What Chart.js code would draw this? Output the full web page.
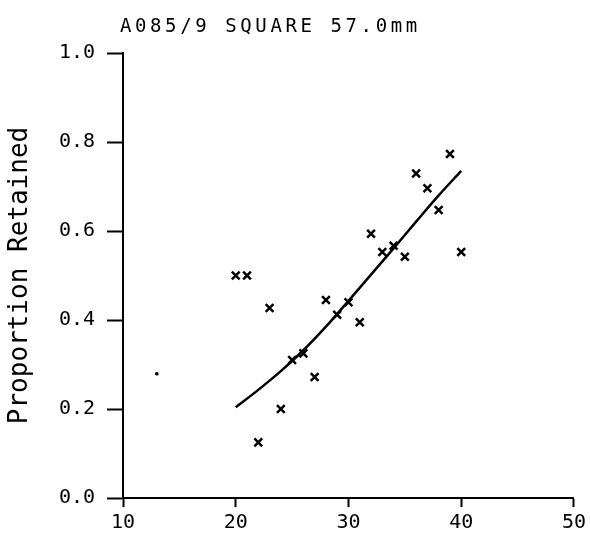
<!DOCTYPE html>
<html>
<head>
<meta charset="utf-8">
<script src="https://cdn.jsdelivr.net/npm/chart.js@4.4.0/dist/chart.umd.min.js"></script>
<style>
  html, body { margin: 0; padding: 0; background: #fff; }
  #wrap { width: 590px; height: 534px; }
</style>
</head>
<body>
<div id="wrap"><canvas id="retainedChart"></canvas></div>
<script>
const chartTitle = "A085/9 SQUARE 57.0mm";

// observed points (x marks)
const sizeX = [20, 21, 22, 23, 24, 25, 26, 27, 28, 29, 30, 31, 32, 33, 34, 35, 36, 37, 38, 39, 40];
const retained = [0.50, 0.50, 0.125, 0.427, 0.20, 0.31, 0.325, 0.272, 0.445, 0.412, 0.44, 0.395, 0.594, 0.553, 0.567, 0.542, 0.729, 0.696, 0.647, 0.773, 0.553];

// stray dot on the left
const strayX = [13];
const strayY = [0.279];

// fitted curve
const fitX = [20, 22, 24, 26, 28, 30, 32, 34, 36, 38, 40];
const fitY = [0.204, 0.243, 0.285, 0.332, 0.385, 0.443, 0.502, 0.561, 0.621, 0.68, 0.735];

const xTicks = [10, 20, 30, 40, 50];
const yTicks = [0.0, 0.2, 0.4, 0.6, 0.8, 1.0];

const toPoints = (xs, ys) => xs.map((x, i) => ({ x: x, y: ys[i] }));

const font = "'DejaVu Sans Mono', monospace";

const titlePlugin = {
  id: "plotTitle",
  afterDraw(chart) {
    const ctx = chart.ctx;
    ctx.save();
    ctx.fillStyle = "#000";
    ctx.font = "19px " + font;
    ctx.letterSpacing = "3.6px";
    ctx.textAlign = "left";
    ctx.textBaseline = "alphabetic";
    ctx.fillText(chartTitle, 120, 32);
    ctx.restore();
  },
};

new Chart(document.getElementById("retainedChart"), {
  type: "scatter",
  data: {
    datasets: [
      {
        label: "observed",
        data: toPoints(sizeX, retained),
        pointStyle: "crossRot",
        pointRadius: 5.5,
        pointBorderWidth: 2.5,
        borderColor: "#000",
        backgroundColor: "#000",
        showLine: false,
      },
      {
        label: "stray",
        data: toPoints(strayX, strayY),
        pointStyle: "rect",
        pointRadius: 1.6,
        borderColor: "#000",
        backgroundColor: "#000",
        showLine: false,
      },
      {
        label: "fit",
        data: toPoints(fitX, fitY),
        showLine: true,
        borderColor: "#000",
        borderWidth: 2.5,
        pointRadius: 0,
        cubicInterpolationMode: "monotone",
      },
    ],
  },
  options: {
    responsive: true,
    maintainAspectRatio: false,
    animation: false,
    layout: { padding: { top: 53, right: 15, left: 0, bottom: 0 } },
    plugins: {
      legend: { display: false },
      tooltip: { enabled: false },
      title: { display: false },
    },
    scales: {
      x: {
        type: "linear",
        min: 10,
        max: 50,
        afterBuildTicks: (scale) => {
          scale.ticks = xTicks.map((v) => ({ value: v }));
        },
        afterFit: (scale) => {
          scale.height = 36;
        },
        grid: {
          drawOnChartArea: false,
          drawTicks: true,
          tickLength: 9,
          tickWidth: 2,
          tickColor: "#000",
        },
        border: { display: true, color: "#000", width: 2 },
        ticks: {
          color: "#000",
          font: { family: font, size: 20 },
          padding: 4,
          maxRotation: 0,
          autoSkip: false,
        },
      },
      y: {
        type: "linear",
        min: 0,
        max: 1,
        afterBuildTicks: (scale) => {
          scale.ticks = yTicks.map((v) => ({ value: v }));
        },
        afterFit: (scale) => {
          scale.width = 123;
        },
        grid: {
          drawOnChartArea: false,
          drawTicks: true,
          tickLength: 16,
          tickWidth: 2,
          tickColor: "#000",
        },
        border: { display: true, color: "#000", width: 2 },
        ticks: {
          color: "#000",
          font: { family: font, size: 20 },
          padding: 12,
          autoSkip: false,
          callback: (value) => value.toFixed(1),
        },
        title: {
          display: true,
          text: "Proportion Retained",
          color: "#000",
          font: { family: font, size: 26 },
          padding: { top: 5, bottom: 0 },
        },
      },
    },
  },
  plugins: [titlePlugin],
});
</script>
</body>
</html>
